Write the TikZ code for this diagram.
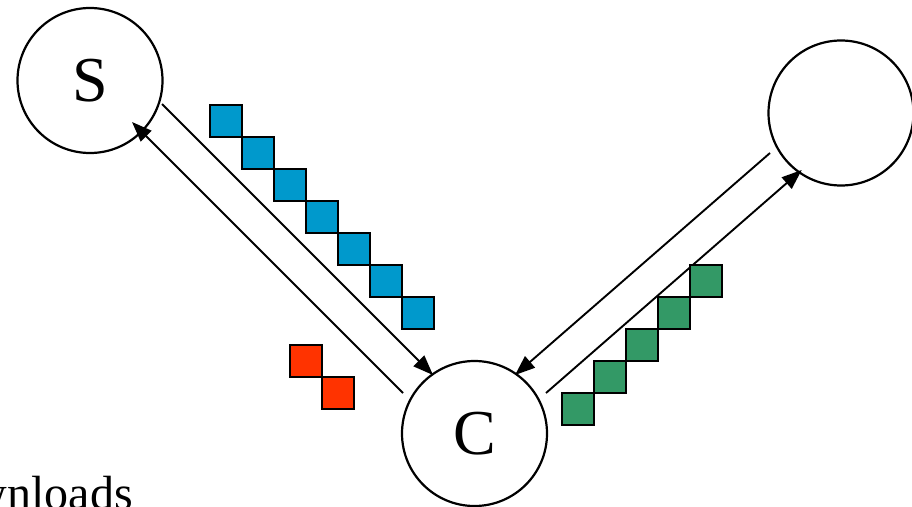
\documentclass[tikz,border=0pt]{standalone}
\usepackage{fontspec}
\setmainfont{Liberation Serif}
\usetikzlibrary{arrows.meta}
\definecolor{sqblue}{HTML}{0099CC}
\definecolor{sqred}{HTML}{FF3300}
\definecolor{sqgreen}{HTML}{339966}
\begin{document}
\begin{tikzpicture}[x=1pt,y=-1pt,
  peer/.style={circle, draw=black, line width=2.2pt, inner sep=0pt, minimum size=145pt,
    font=\rmfamily\fontsize{64}{70}\selectfont},
  link/.style={line width=1.9pt, -{Triangle[length=20pt,width=15pt]}},
  pkt/.style={draw=black, line width=2.3pt}]
\useasboundingbox (0,0) rectangle (912,506);
\clip (0,0) rectangle (912,506);
\fill[white] (0,0) rectangle (912,506);

\node[peer] (S) at (90,80.5) {\raisebox{-3.5pt}{S}};
\node[peer] (C) at (474.5,433.5) {\raisebox{-3.5pt}{C}};
\node[peer] (R) at (841,113) {};

% S -> C and C -> S
\draw[link] ([shift={(72,23.5)}]S.center) -- ([shift={(-41.5,-58.5)}]C.center);
\draw[link] ([shift={(-71.5,-40.5)}]C.center) -- ([shift={(42,41.5)}]S.center);
% R -> C and C -> R
\draw[link] ([shift={(-71,40)}]R.center) -- ([shift={(40.5,-58.5)}]C.center);
\draw[link] ([shift={(71.5,-40.5)}]C.center) -- ([shift={(-39.3,57)}]R.center);

% packets
\foreach \i in {0,...,6}
  \draw[pkt, fill=sqblue] (210+32*\i,105+32*\i) rectangle ++(32,32);
\foreach \i in {0,1}
  \draw[pkt, fill=sqred] (290+32*\i,345+32*\i) rectangle ++(32,32);
\foreach \i in {0,...,4}
  \draw[pkt, fill=sqgreen] (562+32*\i,393-32*\i) rectangle ++(32,32);

\node[anchor=base east, inner sep=0pt, font=\rmfamily\fontsize{48}{52}\selectfont] (dl) at (133,509) {Downloads};
\end{tikzpicture}
\end{document}
